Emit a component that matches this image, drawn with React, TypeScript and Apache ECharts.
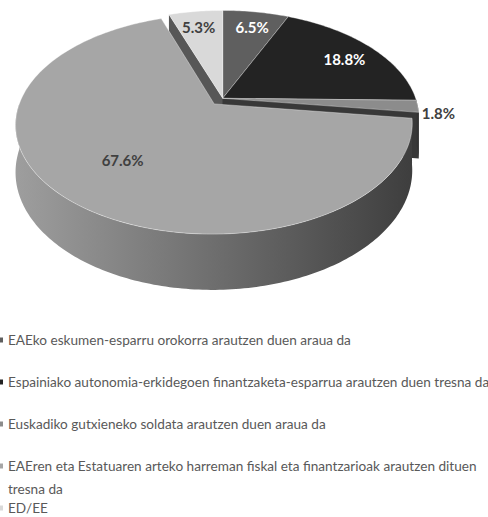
import React, { useEffect, useRef } from "react";
import * as echarts from "echarts";

const categories = [
  "EAEko eskumen-esparru orokorra arautzen duen araua da",
  "Espainiako autonomia-erkidegoen finantzaketa-esparrua arautzen duen tresna da",
  "Euskadiko gutxieneko soldata arautzen duen araua da",
  "EAEren eta Estatuaren arteko harreman fiskal eta finantzarioak arautzen dituen tresna da",
  "ED/EE",
];
const values = [6.5, 18.8, 1.8, 67.6, 5.3];
const colors = ["#5f5f5f", "#232323", "#8c8c8c", "#a6a6a6", "#d9d9d9"];

// 3D pie geometry (projection of a tilted disc with perspective)
const CX = 222.7;
const CY = 98.3;
const A = 193;
const B = 104;
const P = 0.1835;
const H0 = 45;
const LA = 193;
const LB = 97;
const EXPLODE = 0.069;
const EXPLODED = [3];
const FONT = "Lato";

const rad = (d: number) => (d * Math.PI) / 180;

function proj(u: number, v: number, h: number): [number, number] {
  const s = 1 / (1 - P * v);
  return [CX + A * u * s, CY + B * v * s + h * H0 * s];
}

function shade(hex: string, f: number) {
  const n = parseInt(hex.slice(1), 16);
  const r = Math.round(((n >> 16) & 255) * f);
  const g = Math.round(((n >> 8) & 255) * f);
  const b = Math.round((n & 255) * f);
  return `rgb(${r},${g},${b})`;
}

function lum(hex: string) {
  const n = parseInt(hex.slice(1), 16);
  return (0.299 * ((n >> 16) & 255) + 0.587 * ((n >> 8) & 255) + 0.114 * (n & 255)) / 255;
}

const total = values.reduce((a, b) => a + b, 0);
const starts: number[] = [];
{
  let acc = 0;
  values.forEach((v) => {
    starts.push((acc / total) * 360);
    acc += v;
  });
}

const wallF = (th: number) => 0.35 + (0.6 * (th - 90)) / 180;

function arcPts(ou: number, ov: number, a: number, b: number, h: number) {
  const pts: [number, number][] = [];
  const n = Math.max(2, Math.ceil(Math.abs(b - a)) + 1);
  for (let k = 0; k < n; k++) {
    const t = rad(a + ((b - a) * k) / (n - 1));
    pts.push(proj(ou + Math.sin(t), ov - Math.cos(t), h));
  }
  return pts;
}

function renderSlice(i: number) {
  const col = colors[i];
  const s = starts[i];
  const e = s + (values[i] / total) * 360;
  const mid = (s + e) / 2;
  const ex = EXPLODED.includes(i) ? EXPLODE : 0;
  const ou = ex * Math.sin(rad(mid));
  const ov = -ex * Math.cos(rad(mid));
  const children: any[] = [];

  // outer curved wall (front half only)
  const a = Math.max(s, 90);
  const b = Math.min(e, 270);
  if (b > a) {
    const top = arcPts(ou, ov, a, b, 0);
    const bot = arcPts(ou, ov, a, b, 1).reverse();
    const mv = ov - Math.cos(rad((a + b) / 2));
    children.push({
      type: "polygon",
      z2: 10 + 10 * mv,
      shape: { points: top.concat(bot) },
      style: {
        fill: {
          type: "linear",
          x: 0,
          y: 0,
          x2: 1,
          y2: 0,
          colorStops: [
            { offset: 0, color: shade(col, wallF(b)) },
            { offset: 0.5, color: shade(col, wallF((a + b) / 2)) },
            { offset: 1, color: shade(col, wallF(a)) },
          ],
        },
        stroke: "none",
      },
    });
  }

  // radial faces
  const face = (th: number) => {
    const t = rad(th);
    const pts = [
      proj(ou, ov, 0),
      proj(ou + Math.sin(t), ov - Math.cos(t), 0),
      proj(ou + Math.sin(t), ov - Math.cos(t), 1),
      proj(ou, ov, 1),
    ];
    children.push({
      type: "polygon",
      z2: 10 + 10 * (ov - 0.5 * Math.cos(t)),
      shape: { points: pts },
      style: { fill: shade(col, 0.4), stroke: "none" },
    });
  };
  if (Math.sin(rad(s)) < -0.01) face(s);
  if (Math.sin(rad(e)) > 0.01) face(e);

  // top face
  const topPts = [proj(ou, ov, 0)].concat(arcPts(ou, ov, s, e, 0));
  children.push({
    type: "polygon",
    z2: 100,
    shape: { points: topPts },
    style: { fill: col, stroke: "rgba(255,255,255,0.45)", lineWidth: 0.8 },
  });

  // label
  const outside = values[i] < 3;
  let lx: number;
  let ly: number;
  if (outside) {
    const t = rad(mid);
    const [rx, ry] = proj(ou + Math.sin(t), ov - Math.cos(t), 0.15);
    lx = rx + 4;
    ly = ry;
  } else {
    const [ax, ay] = proj(ou, ov, 0);
    lx = ax + 0.75 * LA * Math.sin(rad(mid));
    ly = ay - 0.75 * LB * Math.cos(rad(mid));
  }
  children.push({
    type: "text",
    z2: 200,
    x: lx,
    y: ly,
    style: {
      text: values[i].toFixed(1) + "%",
      fill: !outside && lum(col) < 0.5 ? "#ffffff" : "#404040",
      font: `bold 15px ${FONT}`,
      align: outside ? "left" : "center",
      verticalAlign: "middle",
    },
  });

  return { type: "group", children };
}

function wrap(name: string, max = 80) {
  const words = name.split(" ");
  const lines: string[] = [];
  let cur = "";
  words.forEach((w) => {
    if (cur && (cur + " " + w).length > max) {
      lines.push(cur);
      cur = w;
    } else cur = cur ? cur + " " + w : w;
  });
  if (cur) lines.push(cur);
  return lines;
}

// legend text block: blank lines above so that the first line sits beside the marker
function legendText(name: string) {
  const lines = wrap(name);
  const pad: string[] = [];
  for (let k = 1; k < lines.length; k++) pad.push(" ");
  return pad.concat(lines).join("\n");
}

const LEGEND_FIRST = 340;
const LEGEND_STEP = 42;
const LH = 22.5;

export default function App() {
  const ref = useRef<HTMLDivElement>(null);
  useEffect(() => {
    if (!ref.current) return;
    const chart = echarts.init(ref.current, undefined, { renderer: "svg" });
    const legends = categories.map((name, i) => {
      const n = wrap(name).length;
      return {
        orient: "vertical",
        left: 0,
        top: LEGEND_FIRST + i * LEGEND_STEP - ((2 * n - 1) * LH) / 2,
        padding: 0,
        data: [name],
        icon: "rect",
        itemWidth: 3,
        itemHeight: 5,
        selectedMode: false,
        formatter: (nm: string) => legendText(nm),
        textStyle: {
          fontFamily: FONT,
          fontSize: 13.6,
          color: "#595959",
          lineHeight: LH,
        },
      };
    });
    chart.setOption({
      animation: false,
      backgroundColor: "#ffffff",
      legend: legends,
      series: categories.map((name, i) => ({
        type: "custom",
        name,
        coordinateSystem: "none",
        data: [values[i]],
        itemStyle: { color: colors[i] },
        silent: true,
        renderItem: () => renderSlice(i),
      })),
    });
    return () => chart.dispose();
  }, []);
  return (
    <div
      ref={ref}
      style={{ position: "fixed", left: 0, top: 0, width: 488, height: 517 }}
    />
  );
}
